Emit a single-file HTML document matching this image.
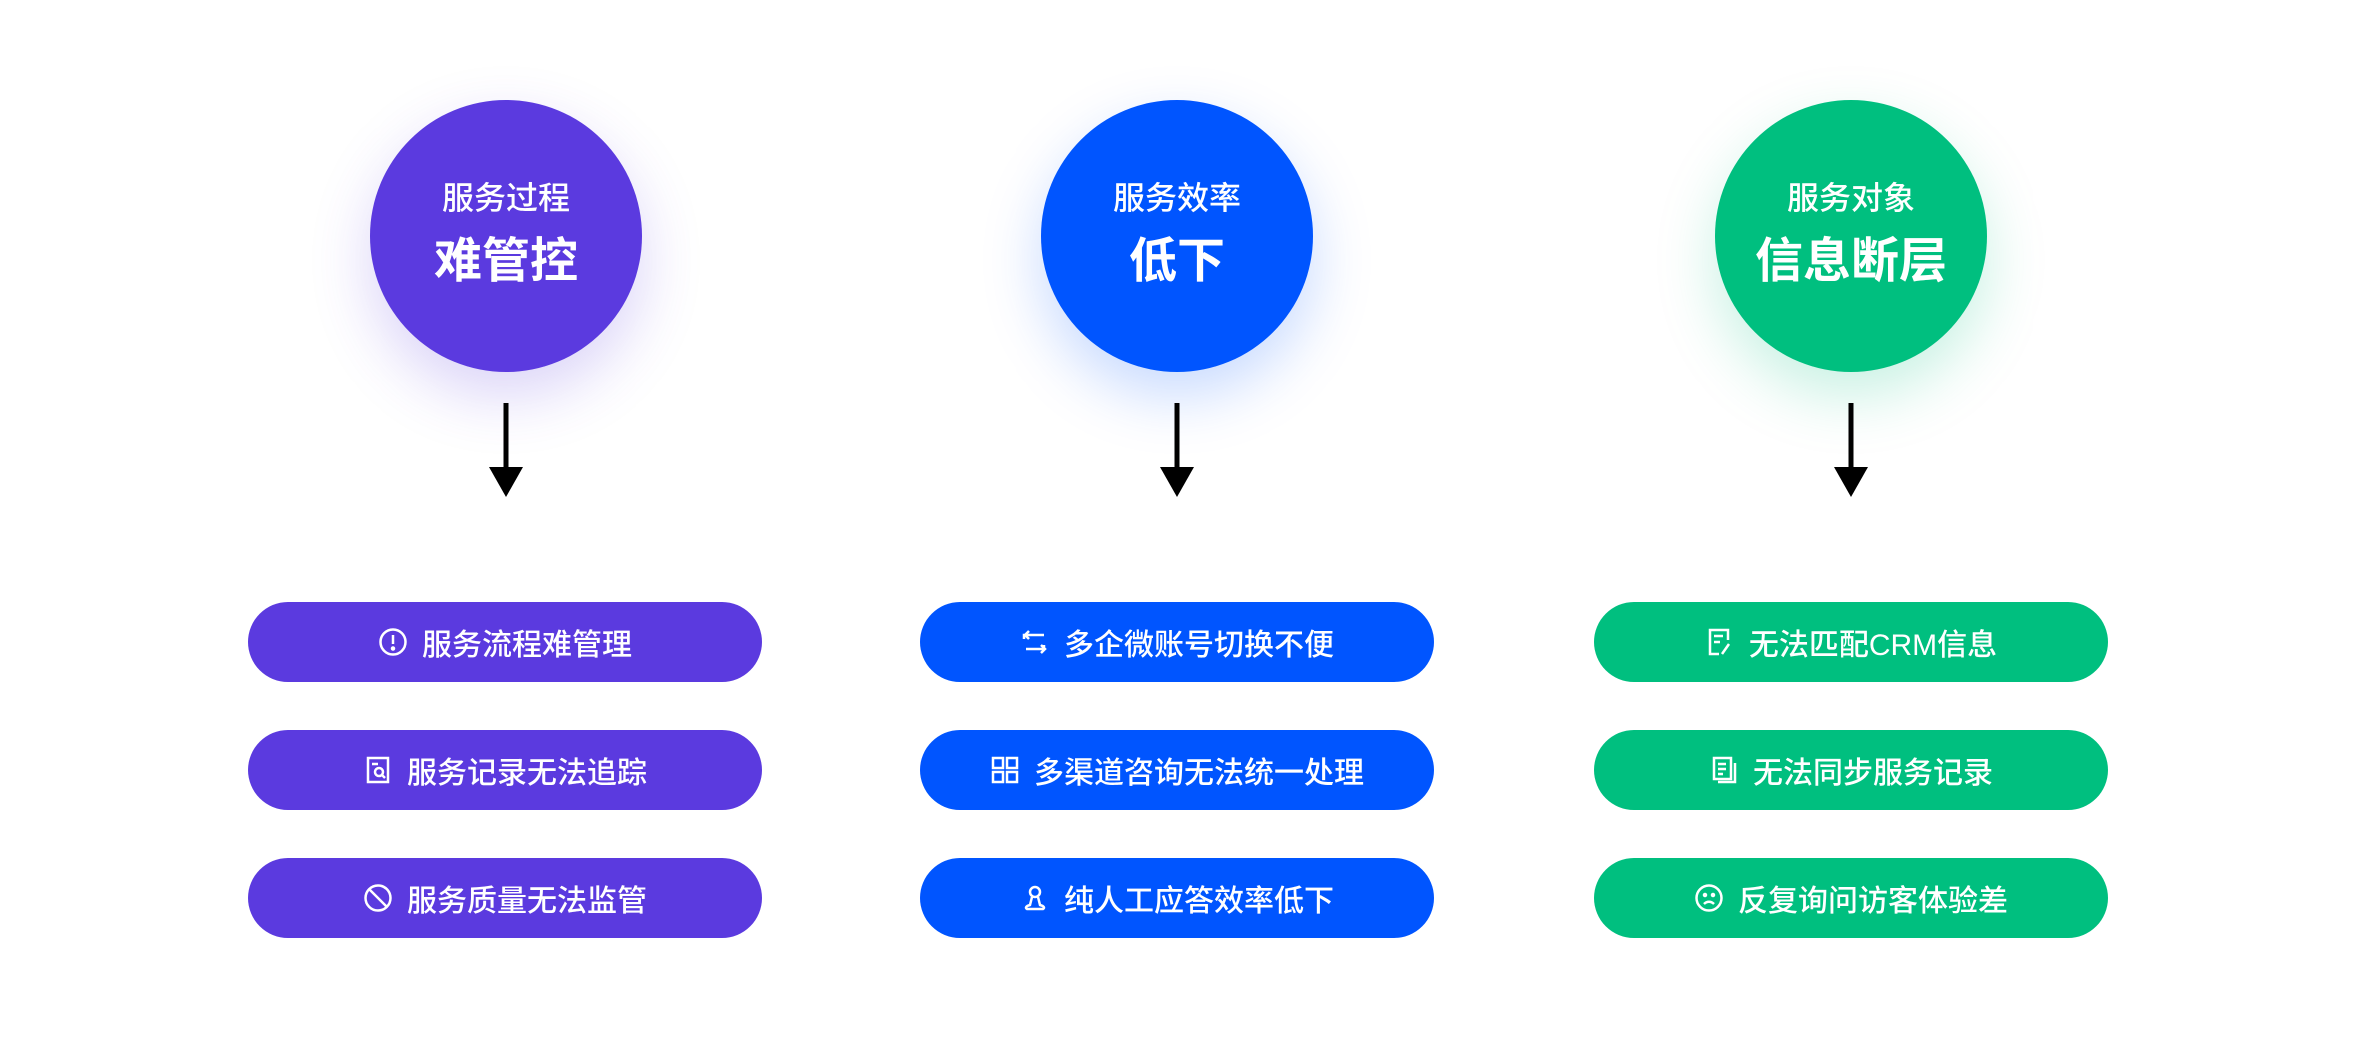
<!DOCTYPE html>
<html><head><meta charset="utf-8"><style>
*{margin:0;padding:0;box-sizing:border-box}
body{width:2360px;height:1038px;background:#fff;position:relative;overflow:hidden;font-family:"Liberation Sans","Noto Sans CJK SC",sans-serif}
.c{position:absolute;width:272px;height:272px;border-radius:50%;top:100px;color:#fff;text-align:center}
.c .s{position:absolute;left:0;right:0;top:78px;font-size:32px;font-weight:500;line-height:40px}
.c .b{position:absolute;left:0;right:0;top:134px;font-size:48px;font-weight:700;line-height:56px}
.p{position:absolute;width:514px;height:80px;border-radius:40px;color:#fff;font-size:30px;font-weight:500;display:flex;align-items:center;justify-content:center;gap:14px}
.p svg{width:30px;height:30px;flex:none}
.a{position:absolute;top:403px}
.pu{background:#5B3ADF}.bl{background:#0055FF}.gr{background:#00BF7F}
</style></head><body>
<div class="c pu" style="left:370px;box-shadow:0 24px 60px rgba(91,58,223,.22)"><div class="s">服务过程</div><div class="b">难管控</div></div>
<div class="c bl" style="left:1041px;box-shadow:0 24px 60px rgba(0,85,255,.22)"><div class="s">服务效率</div><div class="b">低下</div></div>
<div class="c gr" style="left:1715px;box-shadow:0 24px 60px rgba(0,191,127,.22)"><div class="s">服务对象</div><div class="b">信息断层</div></div>

<svg class="a" style="left:486px" width="40" height="96"><line x1="20" y1="0" x2="20" y2="68" stroke="#000" stroke-width="5" stroke-linecap="round"/><polygon points="3,64 37,64 20,94" fill="#000"/></svg>
<svg class="a" style="left:1157px" width="40" height="96"><line x1="20" y1="0" x2="20" y2="68" stroke="#000" stroke-width="5" stroke-linecap="round"/><polygon points="3,64 37,64 20,94" fill="#000"/></svg>
<svg class="a" style="left:1831px" width="40" height="96"><line x1="20" y1="0" x2="20" y2="68" stroke="#000" stroke-width="5" stroke-linecap="round"/><polygon points="3,64 37,64 20,94" fill="#000"/></svg>

<div class="p pu" style="left:248px;top:602px"><svg viewBox="0 0 30 30" fill="none" stroke="#fff" stroke-width="2.5"><circle cx="15" cy="15" r="12.5"/><line x1="15" y1="8" x2="15" y2="17"/><circle cx="15" cy="21.5" r="1" fill="#fff"/></svg>服务流程难管理</div>
<div class="p pu" style="left:248px;top:730px"><svg viewBox="0 0 30 30" fill="none" stroke="#fff" stroke-width="2.5"><rect x="5" y="3" width="20" height="24"/><line x1="9" y1="9" x2="15" y2="9"/><circle cx="16" cy="17" r="4"/><line x1="19" y1="20" x2="22" y2="23"/></svg>服务记录无法追踪</div>
<div class="p pu" style="left:248px;top:858px"><svg viewBox="0 0 30 30" fill="none" stroke="#fff" stroke-width="2.5"><circle cx="15" cy="15" r="12.5"/><line x1="6" y1="6" x2="24" y2="24"/></svg>服务质量无法监管</div>

<div class="p bl" style="left:920px;top:602px"><svg viewBox="0 0 30 30" fill="none" stroke="#fff" stroke-width="2.5"><path d="M4 12V8h20M24 18v4H6M9 4L5 8l4 4M21 18l4 4-4 4"/></svg>多企微账号切换不便</div>
<div class="p bl" style="left:920px;top:730px"><svg viewBox="0 0 30 30" fill="none" stroke="#fff" stroke-width="2.5"><rect x="3" y="3" width="10" height="10"/><rect x="17" y="3" width="10" height="10"/><rect x="3" y="17" width="10" height="10"/><rect x="17" y="17" width="10" height="10"/></svg>多渠道咨询无法统一处理</div>
<div class="p bl" style="left:920px;top:858px"><svg viewBox="0 0 30 30" fill="none" stroke="#fff" stroke-width="2.5"><circle cx="15" cy="9" r="5"/><path d="M12 14l-2 8c-4 1-5 3-3 4h16c2-1 1-3-3-4l-2-8"/></svg>纯人工应答效率低下</div>

<div class="p gr" style="left:1594px;top:602px"><svg viewBox="0 0 30 30" fill="none" stroke="#fff" stroke-width="2.5"><path d="M14 27H5V3h18v10"/><line x1="9" y1="9" x2="18" y2="9"/><line x1="9" y1="15" x2="15" y2="15"/><line x1="24" y1="17" x2="17" y2="27"/></svg>无法匹配CRM信息</div>
<div class="p gr" style="left:1594px;top:730px"><svg viewBox="0 0 30 30" fill="none" stroke="#fff" stroke-width="2.5"><rect x="5" y="3" width="17" height="21"/><path d="M9 27h17V8"/><line x1="9" y1="9" x2="17" y2="9"/><line x1="9" y1="14" x2="17" y2="14"/><line x1="9" y1="19" x2="14" y2="19"/></svg>无法同步服务记录</div>
<div class="p gr" style="left:1594px;top:858px"><svg viewBox="0 0 30 30" fill="none" stroke="#fff" stroke-width="2.5"><circle cx="15" cy="15" r="12.5"/><circle cx="11" cy="12" r="1" fill="#fff"/><circle cx="19" cy="12" r="1" fill="#fff"/><path d="M10 21c3-3 7-3 10 0"/></svg>反复询问访客体验差</div>
</body></html>
